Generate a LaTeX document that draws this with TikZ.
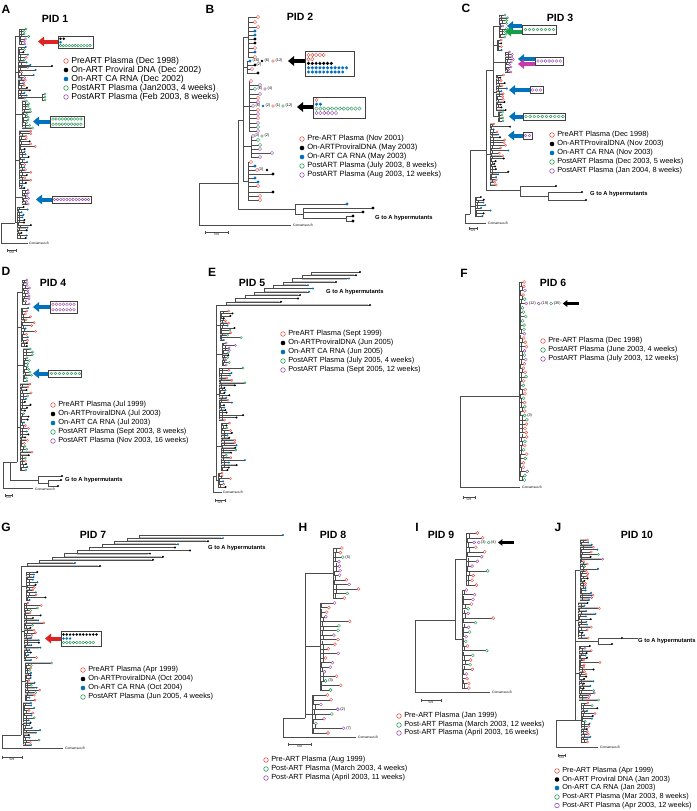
\documentclass[tikz,border=0pt]{standalone}
\usepackage{fontspec}
\setmainfont{Liberation Sans}
\usetikzlibrary{arrows.meta, positioning}

\definecolor{prered}{RGB}{232,72,60}
\definecolor{rnablue}{RGB}{0,112,192}
\definecolor{postgreen}{RGB}{30,150,80}
\definecolor{postpurple}{RGB}{150,70,170}
\definecolor{arrred}{RGB}{222,35,35}
\definecolor{arrblue}{RGB}{0,114,188}
\definecolor{arrgreen}{RGB}{20,160,70}
\definecolor{arrmag}{RGB}{200,60,170}

\pgfmathdeclarerandomlist{mixAll}{{mkpre}{mkdna}{mkrna}{mkgrn}{mkpur}{mkpre}{mkrna}}
\pgfmathdeclarerandomlist{topGrn}{{mkgrn}{mkgrn}{mkgrn}{mkpur}{mkrna}}
\pgfmathdeclarerandomlist{onlyGrn}{{mkgrn}}
\pgfmathdeclarerandomlist{onlyPur}{{mkpur}}
\pgfmathdeclarerandomlist{preDna}{{mkpre}{mkpre}{mkdna}{mkrna}}
\pgfmathdeclarerandomlist{rnaDna}{{mkrna}{mkdna}{mkrna}}
\pgfmathdeclarerandomlist{mixC}{{mkpre}{mkpre}{mkdna}{mkrna}{mkdna}}
\pgfmathdeclarerandomlist{mixD}{{mkrna}{mkdna}{mkgrn}{mkpre}}
\pgfmathdeclarerandomlist{mixE}{{mkdna}{mkdna}{mkrna}{mkpre}{mkrna}{mkgrn}}
\pgfmathdeclarerandomlist{purMix}{{mkpur}{mkpur}{mkgrn}{mkdna}}
\pgfmathdeclarerandomlist{plasmaF}{{mkpre}{mkpre}{mkpre}{mkgrn}{mkgrn}{mkpur}}
\pgfmathdeclarerandomlist{mixG}{{mkpre}{mkdna}{mkrna}{mkrna}{mkgrn}{mkpre}}
\pgfmathdeclarerandomlist{plasmaH}{{mkpre}{mkpre}{mkpur}{mkpur}{mkgrn}}
\pgfmathdeclarerandomlist{plasmaI}{{mkpre}{mkpre}{mkgrn}{mkpur}}
\pgfmathdeclarerandomlist{mixJ}{{mkpre}{mkpre}{mkdna}{mkrna}{mkgrn}{mkpur}}
\pgfmathdeclarerandomlist{rnaMix}{{mkrna}{mkrna}{mkdna}{mkpre}}

\def\mksz{2.2pt}

% name, seed, stem x, first y, last y, leaves, longest branch, marker list, share of shaded branches
\newcommand{\leafrun}[9]{%
  \pgfmathsetseed{#2}%
  \pgfmathsetmacro\lgap{(#5-#4)/(#6-1)}%
  \draw[branch] (#3,#4) -- (#3,#5);
  \foreach \i in {1,...,#6}{%
    \pgfmathsetmacro\yy{#4+(\i-1)*\lgap}%
    \pgfmathsetmacro\xk{#3+0.6+rnd*3}%
    \pgfmathsetmacro\xl{\xk+2.5+rnd*rnd*#7}%
    \pgfmathtruncatemacro\shd{rnd<#9 ? 1 : 0}%
    \pgfmathrandomitem\mk{#8}%
    \ifnum\shd=1 \fill[band] (#3,\yy-0.9) rectangle (\xl-1.2,\yy+0.9);\fi
    \draw[branch] (#3,\yy) -- (\xl,\yy);
    \ifnum\i>1 \draw[branch] (\xk,\yy) -- (\xk,\yy-0.8*\lgap);\fi
    \node[\mk] (#1-\i) at (\xl,\yy) {};
  }%
}
\newcommand{\circrow}[6]{%
  \foreach \k in {1,...,#5}{\node[#2] (#1-\k) at ({#3+(\k-1)*#6},#4) {};}%
}
\newcommand{\legrow}[5]{%
  \node[#2, minimum size=4.6pt, line width=0.55pt] (#1) at (#3,#4) {};
  \node[legtext, right=2.5pt of #1] (#1-t) {#5};%
}
\newcommand{\scalebar}[4]{%
  \draw[branch] (#2,#4-1.5) -- (#2,#4+1.5) (#2,#4) -- (#3,#4) (#3,#4-1.5) -- (#3,#4+1.5);
  \node[tinytext, anchor=north] (#1) at ({(#2+#3)/2},#4+1.5) {5nt};%
}

\begin{document}
\begin{tikzpicture}[x=1pt, y=-1pt,
  branch/.style={draw=black!70, line width=0.4pt},
  band/.style={fill=black!25},
  mk/.style={circle, inner sep=0pt, minimum size=\mksz, line width=0.4pt},
  mkpre/.style={mk, draw=prered, fill=white},
  mkgrn/.style={mk, draw=postgreen, fill=white},
  mkpur/.style={mk, draw=postpurple, fill=white},
  mkdna/.style={mk, fill=black},
  mkrna/.style={mk, fill=rnablue},
  circbox/.style={draw=black!75, fill=white, line width=0.5pt, inner sep=0pt},
  bigarrow/.style={line width=4pt, -{Triangle[length=6pt, width=9.5pt]}},
  smallarrow/.style={line width=2.6pt, -{Triangle[length=4.5pt, width=6.5pt]}},
  panel/.style={font=\fontsize{12}{12}\selectfont\bfseries, inner sep=0pt},
  pid/.style={font=\fontsize{10.5}{11}\selectfont\bfseries, inner sep=0pt},
  legtext/.style={font=\fontsize{7.4}{8}\selectfont, inner sep=0pt},
  hyper/.style={font=\fontsize{5.8}{6}\selectfont\bfseries, inner sep=0pt, anchor=west},
  tinytext/.style={font=\fontsize{3.3}{4}\selectfont, inner sep=0pt, anchor=west},
  tally/.style={font=\fontsize{3.8}{4}\selectfont, inner sep=0pt}
]
\useasboundingbox (0,0) rectangle (696,811);

% ---------- A : PID 1
\node[panel] (labA) at (6,9) {A};
\node[pid] (pidA) at (55,19) {PID 1};
\def\mksz{2.2pt}
\leafrun{a1}{11}{19}{29}{44}{7}{6}{topGrn}{0.3}
\leafrun{a2}{12}{18}{47}{98}{21}{14}{mixAll}{0.35}
\leafrun{a3}{13}{22}{101}{128}{11}{5}{onlyGrn}{0.4}
\leafrun{a4}{14}{19}{131}{188}{23}{14}{preDna}{0.35}
\leafrun{a5}{15}{22}{190}{204}{6}{4}{onlyPur}{0.3}
\leafrun{a6}{16}{17}{207}{238}{13}{16}{rnaDna}{0.3}
\draw[branch] (15,36) -- (15,223) (15,36) -- (19,36) (15,72) -- (18,72) (15,114) -- (22,114)
  (15,160) -- (19,160) (15,197) -- (22,197) (15,222) -- (17,222);
\draw[branch] (18,66) -- (52,66) (18,97) -- (42,97) (42,94) -- (42,100);
\node[mkdna] (aLong) at (52,66) {};
\foreach \yy in {94,97,100}{\draw[branch] (42,\yy) -- (45,\yy); \node[mkgrn] (aG\yy) at (45,\yy) {};}
\draw[branch] (1,223) -- (15,223) (1,223) -- (1,243) (1,243) -- (28,243);
\node[tinytext] (consA) at (29,243) {Consensus B};
\scalebar{scA}{7}{16}{250}
\def\mksz{2.7pt}
\node[circbox, minimum width=35pt, minimum height=12pt] (boxA1) at (75.5,42) {};
\circrow{a1k}{mkdna}{60.5}{38.8}{2}{3.2}
\circrow{a1b}{mkrna}{60.5}{42.2}{1}{3.2}
\circrow{a1g}{mkgrn}{60.5}{45.6}{11}{2.95}
\coordinate (tipA1) at (38,41.5);
\draw[bigarrow, arrred] (boxA1.west |- tipA1) -- (tipA1);
\node[circbox, minimum width=34pt, minimum height=11pt] (boxA2) at (67,121.5) {};
\circrow{a2g}{mkgrn}{53}{119}{10}{3.1}
\circrow{a2h}{mkgrn}{53}{124.2}{10}{3.1}
\coordinate (tipA2) at (33,121.5);
\draw[bigarrow, arrblue] (boxA2.west |- tipA2) -- (tipA2);
\node[circbox, minimum width=39pt, minimum height=7.5pt] (boxA3) at (71.5,199.5) {};
\circrow{a3p}{mkpur}{54.5}{199.5}{12}{3.1}
\coordinate (tipA3) at (36,199.5);
\draw[bigarrow, arrblue] (boxA3.west |- tipA3) -- (tipA3);
\begin{scope}[legtext/.style={font=\fontsize{8.7}{9}\selectfont, inner sep=0pt}]
\legrow{lgA1}{mkpre}{66}{61}{PreART Plasma (Dec 1998)}
\legrow{lgA2}{mkdna}{66}{70}{On-ART Proviral DNA (Dec 2002)}
\legrow{lgA3}{mkrna}{66}{79}{On-ART CA RNA (Dec 2002)}
\legrow{lgA4}{mkgrn}{66}{88}{PostART Plasma (Jan2003, 4 weeks)}
\legrow{lgA5}{mkpur}{66}{97}{PostART Plasma (Feb 2003, 8 weeks)}
\end{scope}

% ---------- B : PID 2
\node[panel] (labB) at (210,9) {B};
\node[pid] (pidB) at (300,17) {PID 2};
\def\mksz{3.4pt}
\draw[branch] (243,37) -- (243,181) (243,37) -- (248,37) (243,67) -- (247,67) (243,106) -- (249,106)
  (243,146) -- (251,146) (243,181) -- (248,181)
  (248,17) -- (248,57) (247,61) -- (247,73) (249,81) -- (249,131) (251,136) -- (251,157) (248,162) -- (248,200)
  (238,120) -- (243,120) (238,120) -- (238,209) (199,183) -- (238,183) (199,183) -- (199,225) (199,225) -- (291,225);
\foreach \yy/\lx/\rx/\mk in {17/248/258/mkpre, 22/248/255/mkpre, 27/248/258/mkpre, 31/248/255/mkrna,
  35/248/255/mkrna, 39/248/255/mkdna, 43/248/255/mkdna, 48/248/255/mkpre, 52/248/255/mkrna, 57/248/255/mkpre,
  61/247/250/mkrna, 65/247/255/mkdna, 69/247/252/mkpre, 73/247/258/mkdna,
  81/249/251/mkpre, 85/249/260/mkpur, 89/249/255/mkgrn, 94/249/260/mkpur, 98/249/258/mkpre, 102/249/258/mkpur,
  106/249/253/mkpur, 110/249/258/mkpre, 114/249/258/mkpur, 118/249/258/mkpre, 123/249/258/mkpur,
  127/249/258/mkgrn, 131/249/258/mkpur,
  136/251/253/mkpur, 140/251/258/mkgrn, 145/251/260/mkgrn, 149/251/260/mkpur, 153/251/272/mkpur, 157/251/260/mkpur,
  162/248/251/mkpre, 166/248/255/mkrna, 170/248/257/mkpre, 174/248/273/mkdna, 178/248/255/mkrna,
  182/248/258/mkrna, 186/248/258/mkpre, 192/248/273/mkdna, 196/248/260/mkpre, 200/248/260/mkpre}{
  \draw[branch] (\lx,\yy) -- (\rx,\yy);
  \node[\mk] (b-\yy) at (\rx,\yy) {};
}
\def\mksz{2.6pt}
\node[tally] (b16) at (256,61) {(16)};
\node[mkdna] (b16d) at (262,61) {};
\node[tally] (b6) at (267,61) {(6)};
\node[mkpre] (b12c) at (273,61) {};
\node[tally] (b12) at (279,61) {(12)};
\node[tally] (b2) at (259,65) {(2)};
\node[tally] (b6g) at (260,89) {(6)};
\node[mkpur] (b4c) at (265,89) {};
\node[tally] (b4) at (270,89) {(4)};
\node[tally] (b6p) at (258,106) {(6)};
\node[mkrna] (b2c) at (263,106) {};
\node[tally] (b2r) at (268,106) {(2)};
\node[mkpre] (b1c) at (273,106) {};
\node[tally] (b1) at (278,106) {(1)};
\node[mkgrn] (b12g) at (283,106) {};
\node[tally] (b12r) at (289,106) {(12)};
\node[tally] (b3p) at (257,136) {(3)};
\node[mkgrn] (b2g) at (262,136) {};
\node[tally] (b2p) at (267,136) {(2)};
\node[tally] (b3k) at (261,170) {(3)};
\node[mkdna] (b3d) at (267,170) {};
\draw[branch] (238,209) -- (295,209) (295,204) -- (295,214) (295,204) -- (347,204) (295,214) -- (303,214)
  (303,208) -- (303,218) (303,208) -- (373,208) (303,212) -- (363,212) (303,218) -- (346,218)
  (346,216) -- (346,221) (346,216) -- (353,216) (346,221) -- (353,221);
\def\mksz{3.2pt}
\node[mkrna] (bH1) at (347,204) {};
\node[mkdna] (bH2) at (373,208) {};
\node[mkdna] (bH3) at (363,212) {};
\node[mkdna] (bH4) at (353,216) {};
\node[mkdna] (bH5) at (353,221) {};
\node[hyper] (hypB) at (375,218) {G to A hypermutants};
\node[tinytext] (consB) at (293,225) {Consensus B};
\scalebar{scB}{205}{228}{232}
\def\mksz{3.4pt}
\node[circbox, minimum width=49pt, minimum height=25pt] (boxB1) at (329.5,63.5) {};
\circrow{b1r}{mkpre}{308.5}{55}{5}{3.8}
\circrow{b1s}{mkpre}{308.5}{59.2}{2}{3.8}
\circrow{b1k}{mkdna}{308.5}{63.4}{7}{3.8}
\circrow{b1b}{mkrna}{308.5}{67.8}{11}{3.8}
\circrow{b1c}{mkrna}{308.5}{72}{10}{3.8}
\coordinate (tipB1) at (288,61);
\draw[bigarrow, black] (boxB1.west |- tipB1) -- (tipB1);
\node[circbox, minimum width=52pt, minimum height=21pt] (boxB2) at (339,107.5) {};
\circrow{b2r}{mkpre}{316.5}{100}{1}{3.9}
\circrow{b2b}{mkrna}{316.5}{104.2}{2}{3.9}
\circrow{b2g}{mkgrn}{316.5}{108.6}{12}{3.9}
\circrow{b2p}{mkpur}{316.5}{113}{6}{3.9}
\coordinate (tipB2) at (297,107);
\draw[bigarrow, black] (boxB2.west |- tipB2) -- (tipB2);
\begin{scope}[legtext/.style={font=\fontsize{7.6}{8}\selectfont, inner sep=0pt}]
\legrow{lgB1}{mkpre}{302}{139}{Pre-ART Plasma (Nov 2001)}
\legrow{lgB2}{mkdna}{302}{148}{On-ARTProviralDNA (May 2003)}
\legrow{lgB3}{mkrna}{302}{157}{On-ART CA RNA (May 2003)}
\legrow{lgB4}{mkgrn}{302}{166}{PostART Plasma (July 2003, 8 weeks)}
\legrow{lgB5}{mkpur}{302}{175}{PostART Plasma (Aug 2003, 12 weeks)}
\end{scope}

% ---------- C : PID 3
\node[panel] (labC) at (466,8) {C};
\node[pid] (pidC) at (560,18) {PID 3};
\def\mksz{2.2pt}
\leafrun{c1}{21}{499}{15}{37}{9}{7}{topGrn}{0.3}
\leafrun{c2}{22}{497}{40}{50}{4}{12}{preDna}{0.3}
\leafrun{c3}{23}{505}{52}{72}{9}{4}{onlyPur}{0.2}
\leafrun{c4}{24}{496}{75}{110}{14}{14}{preDna}{0.35}
\leafrun{c5}{25}{498}{112}{121}{4}{4}{onlyGrn}{0.2}
\leafrun{c6}{26}{490}{124}{185}{24}{18}{mixC}{0.35}
\leafrun{c7}{27}{475}{197}{216}{8}{14}{rnaDna}{0.3}
\draw[branch] (493,26) -- (493,116) (493,26) -- (499,26) (493,45) -- (497,45) (493,62) -- (505,62)
  (493,92) -- (496,92) (493,116) -- (498,116)
  (486,70) -- (486,190) (486,70) -- (493,70) (486,154) -- (490,154)
  (470,150) -- (470,214) (470,150) -- (486,150) (470,206) -- (475,206)
  (465,214) -- (470,214) (465,214) -- (465,223) (465,223) -- (486,223);
\node[tinytext] (consC) at (488,223) {Consensus B};
\draw[branch] (486,190) -- (520,190) (520,186) -- (520,196) (520,186) -- (556,186) (520,196) -- (548,196)
  (548,192) -- (548,200) (548,192) -- (582,192) (548,200) -- (586,200);
\node[mkdna] (cH1) at (556,186) {};
\node[mkdna] (cH2) at (582,192) {};
\node[mkdna] (cH3) at (586,200) {};
\node[hyper] (hypC) at (590,194) {G to A hypermutants};
\scalebar{scC}{469}{477}{228}
\def\mksz{2.8pt}
\node[circbox, minimum width=34pt, minimum height=9pt] (boxC1) at (539,29.5) {};
\circrow{c1g}{mkgrn}{525.5}{29.5}{8}{4}
\coordinate (tipC1) at (507,26);
\coordinate (tipC1g) at (505,31.5);
\draw[bigarrow, arrblue] (boxC1.west |- tipC1) -- (tipC1);
\draw[bigarrow, arrgreen] (boxC1.west |- tipC1g) -- (tipC1g);
\node[circbox, minimum width=28pt, minimum height=8pt] (boxC2) at (549,61) {};
\circrow{c2p}{mkpur}{538}{61}{7}{3.7}
\coordinate (tipC2) at (518,59);
\coordinate (tipC2m) at (518,64);
\draw[bigarrow, arrblue] (boxC2.west |- tipC2) -- (tipC2);
\draw[bigarrow, arrmag] (boxC2.west |- tipC2m) -- (tipC2m);
\node[circbox, minimum width=13pt, minimum height=7pt] (boxC3) at (536.5,90) {};
\circrow{c3p}{mkpur}{532.5}{90}{3}{4}
\coordinate (tipC3) at (509,90);
\draw[bigarrow, arrblue] (boxC3.west |- tipC3) -- (tipC3);
\node[circbox, minimum width=42pt, minimum height=7.5pt] (boxC4) at (544,116.5) {};
\circrow{c4g}{mkgrn}{526}{116.5}{10}{4.1}
\coordinate (tipC4) at (509,116.5);
\draw[bigarrow, arrblue] (boxC4.west |- tipC4) -- (tipC4);
\node[circbox, minimum width=9pt, minimum height=7pt] (boxC5) at (527.5,135.5) {};
\circrow{c5p}{mkpur}{525.5}{135.5}{2}{4}
\coordinate (tipC5) at (508,135.5);
\draw[bigarrow, arrblue] (boxC5.west |- tipC5) -- (tipC5);
\legrow{lgC1}{mkpre}{552}{135}{PreART Plasma (Dec 1998)}
\legrow{lgC2}{mkdna}{552}{144}{On-ARTProviralDNA (Nov 2003)}
\legrow{lgC3}{mkrna}{552}{153}{On-ART CA RNA (Nov 2003)}
\legrow{lgC4}{mkgrn}{552}{162}{PostART Plasma (Dec 2003, 5 weeks)}
\legrow{lgC5}{mkpur}{552}{171}{PostART Plasma (Jan 2004, 8 weeks)}

% ---------- D : PID 4
\node[panel] (labD) at (6,271) {D};
\node[pid] (pidD) at (53,283) {PID 4};
\def\mksz{2.2pt}
\leafrun{d1}{31}{22}{280}{304}{10}{5}{onlyPur}{0.2}
\leafrun{d2}{32}{21}{308}{346}{14}{12}{preDna}{0.3}
\leafrun{d3}{33}{23}{349}{381}{12}{5}{onlyGrn}{0.3}
\leafrun{d4}{34}{20}{384}{470}{30}{10}{mixD}{0.3}
\draw[branch] (17,292) -- (17,462) (17,292) -- (22,292) (17,327) -- (21,327) (17,365) -- (23,365) (17,427) -- (20,427)
  (3,462) -- (17,462) (3,462) -- (3,488) (3,488) -- (33,488)
  (10,462) -- (10,480) -- (38,480) (38,476) -- (38,483) (38,476) -- (62,476) (38,483) -- (48,483)
  (48,480) -- (48,486) (48,480) -- (61,480) (48,486) -- (58,486);
\node[mkdna] (dH1) at (62,476) {};
\node[mkdna] (dH2) at (61,480) {};
\node[mkdna] (dH3) at (58,486) {};
\node[hyper] (hypD) at (65,480) {G to A hypermutants};
\node[tinytext] (consD) at (35,489) {Consensus B};
\scalebar{scD}{5}{12}{495}
\def\mksz{2.8pt}
\node[circbox, minimum width=27pt, minimum height=12pt] (boxD1) at (63.5,307) {};
\circrow{d1p}{mkpur}{53}{304.2}{7}{3.5}
\circrow{d1q}{mkpur}{53}{309.8}{7}{3.5}
\coordinate (tipD1) at (33,307);
\draw[bigarrow, arrblue] (boxD1.west |- tipD1) -- (tipD1);
\node[circbox, minimum width=33pt, minimum height=7.5pt] (boxD2) at (64.5,373.5) {};
\circrow{d2g}{mkgrn}{51.5}{373.5}{8}{4}
\coordinate (tipD2) at (33,373.5);
\draw[bigarrow, arrblue] (boxD2.west |- tipD2) -- (tipD2);
\legrow{lgD1}{mkpre}{53}{405}{PreART Plasma (Jul 1999)}
\legrow{lgD2}{mkdna}{53}{414}{On-ARTProviralDNA (Jul 2003)}
\legrow{lgD3}{mkrna}{53}{423}{On-ART CA RNA (Jul 2003)}
\legrow{lgD4}{mkgrn}{53}{432}{PostART Plasma (Sept 2003, 8 weeks)}
\legrow{lgD5}{mkpur}{53}{441}{PostART Plasma (Nov 2003, 16 weeks)}

% ---------- E : PID 5
\node[panel] (labE) at (212,272) {E};
\node[pid] (pidE) at (252,283) {PID 5};
\def\mksz{2.2pt}
\leafrun{e1}{41}{220}{311}{340}{13}{22}{mixE}{0.4}
\leafrun{e2}{42}{222}{343}{365}{10}{18}{purMix}{0.4}
\leafrun{e3}{43}{219}{368}{420}{22}{24}{mixE}{0.4}
\leafrun{e4}{44}{221}{423}{470}{20}{22}{mixE}{0.4}
\leafrun{e5}{45}{218}{473}{487}{6}{14}{preDna}{0.3}
\draw[branch] (216,305) -- (216,480) (216,305) -- (226,305) (216,325) -- (220,325) (216,354) -- (222,354)
  (216,394) -- (219,394) (216,446) -- (221,446) (216,480) -- (218,480)
  (213,476) -- (216,476) (213,476) -- (213,492) (213,492) -- (222,492);
\foreach \k/\lend/\mk in {0/370/mkdna,1/281/mkdna,2/298/mkdna,3/300/mkdna,4/309/mkrna,5/313/mkrna,
  6/308/mkrna,7/336/mkdna,8/349/mkrna,9/356/mkdna}{
  \pgfmathsetmacro\fx{226+9.5*\k}
  \pgfmathsetmacro\fy{305-3.3*\k}
  \fill[band] (\fx,\fy-0.9) rectangle (\lend-2,\fy+0.9);
  \draw[branch] (\fx,\fy) -- (\lend,\fy) (\fx,\fy) -- (\fx,\fy-3.3) -- (\fx+9.5,\fy-3.3);
  \node[\mk] (eF-\k) at (\lend,\fy) {};
}
\draw[branch] (321,272) -- (360,272);
\node[mkdna] (eF-10) at (360,272) {};
\node[hyper] (hypE) at (326,292) {G to A hypermutants};
\node[tinytext] (consE) at (223,492) {Consensus B};
\scalebar{scE}{215}{225}{500}
\legrow{lgE1}{mkpre}{283}{334}{PreART Plasma (Sept 1999)}
\legrow{lgE2}{mkdna}{283}{343}{On-ARTProviralDNA (Jun 2005)}
\legrow{lgE3}{mkrna}{283}{352}{On-ART CA RNA (Jun 2005)}
\legrow{lgE4}{mkgrn}{283}{361}{PostART Plasma (July 2005, 4 weeks)}
\legrow{lgE5}{mkpur}{283}{370}{PostART Plasma (Sept 2005, 12 weeks)}

% ---------- F : PID 6
\node[panel] (labF) at (464,273) {F};
\node[pid] (pidF) at (553,283) {PID 6};
\def\mksz{3pt}
\leafrun{f1}{51}{519}{282}{480}{47}{4}{plasmaF}{0}
\draw[branch] (460,396) -- (519,396) (460,396) -- (460,487) (460,487) -- (520,487);
\node[tinytext] (consF) at (522,487) {Consensus B};
\scalebar{scF}{463}{475}{497}
\node[tally, right=0.8pt of f1-6] (f12) {(12)};
\node[mkpur, right=1pt of f12] (f12c) {};
\node[tally, right=0.8pt of f12c] (f19) {(19)};
\node[mkgrn, right=1pt of f19] (f19c) {};
\node[tally, right=0.8pt of f19c] (f35) {(35)};
\coordinate[right=18pt of f35] (fTail);
\draw[smallarrow, shorten >=2pt] (fTail) -- (f35);
\node[tally, right=0.8pt of f1-32] (f3) {(3)};
\legrow{lgF1}{mkpre}{543}{341}{Pre-ART Plasma (Dec 1998)}
\legrow{lgF2}{mkgrn}{543}{350}{PostART Plasma (June 2003, 4 weeks)}
\legrow{lgF3}{mkpur}{543}{359}{PostART Plasma (July 2003, 12 weeks)}

% ---------- G : PID 7
\node[panel] (labG) at (6,527) {G};
\node[pid] (pidG) at (93,535) {PID 7};
\def\mksz{2.2pt}
\leafrun{g1}{61}{26}{572}{600}{12}{30}{mixG}{0.45}
\leafrun{g2}{62}{24}{603}{660}{24}{24}{mixG}{0.45}
\leafrun{g3}{63}{25}{663}{700}{16}{26}{mixG}{0.45}
\leafrun{g4}{64}{23}{703}{745}{18}{22}{mixG}{0.45}
\draw[branch] (21,566) -- (21,735) (21,566) -- (27,566) (21,586) -- (26,586) (21,631) -- (24,631)
  (21,681) -- (25,681) (21,724) -- (23,724)
  (2,735) -- (21,735) (2,735) -- (2,748) (2,748) -- (63,748);
\foreach \k/\lend/\mk in {0/100/mkdna,1/75/mkrna,2/153/mkdna,3/163/mkdna,4/150/mkdna,5/190/mkdna,
  6/175/mkdna,7/178/mkrna,8/208/mkdna,9/223/mkrna}{
  \pgfmathsetmacro\fx{27+12.5*\k}
  \pgfmathsetmacro\fy{566-3.1*\k}
  \fill[band] (\fx,\fy-0.9) rectangle (\lend-2,\fy+0.9);
  \draw[branch] (\fx,\fy) -- (\lend,\fy) (\fx,\fy) -- (\fx,\fy-3.1) -- (\fx+12.5,\fy-3.1);
  \node[\mk] (gF-\k) at (\lend,\fy) {};
}
\draw[branch] (152,535) -- (283,535);
\node[mkrna] (gF-10) at (283,535) {};
\node[hyper] (hypG) at (208,548) {G to A hypermutants};
\node[tinytext] (consG) at (65,748) {Consensus B};
\scalebar{scG}{2}{22}{757}
\def\mksz{2.7pt}
\node[circbox, minimum width=40pt, minimum height=15pt] (boxG1) at (81,638.5) {};
\circrow{g1k}{mkdna}{63.5}{634.5}{11}{3.3}
\circrow{g1b}{mkrna}{63.5}{638.5}{3}{3.3}
\circrow{g1g}{mkgrn}{63.5}{642.5}{10}{3.3}
\coordinate (tipG1) at (45,638.5);
\draw[bigarrow, arrred] (boxG1.west |- tipG1) -- (tipG1);
\legrow{lgG1}{mkpre}{83}{670}{PreART Plasma (Apr 1999)}
\legrow{lgG2}{mkdna}{83}{679}{On-ARTProviralDNA (Oct 2004)}
\legrow{lgG3}{mkrna}{83}{688}{On-ART CA RNA (Oct 2004)}
\legrow{lgG4}{mkgrn}{83}{697}{PostART Plasma (Jun 2005, 4 weeks)}

% ---------- H : PID 8
\node[panel] (labH) at (303,527) {H};
\node[pid] (pidH) at (333,535) {PID 8};
\def\mksz{3pt}
\leafrun{h1}{71}{333}{548}{598}{12}{30}{plasmaH}{0}
\leafrun{h2}{72}{320}{603}{690}{20}{34}{plasmaH}{0}
\leafrun{h3}{73}{312}{695}{733}{9}{34}{plasmaH}{0}
\draw[branch] (305,573) -- (305,718) (305,573) -- (333,573) (305,646) -- (320,646) (305,714) -- (312,714)
  (283,718) -- (305,718) (283,718) -- (283,737) (283,737) -- (356,737);
\node[tally, right=0.8pt of h1-3] (h5) {(5)};
\node[tally, right=0.8pt of h2-18] (h3a) {(3)};
\node[tally, right=0.8pt of h3-4] (h2a) {(2)};
\node[tally, right=0.8pt of h3-8] (h7) {(7)};
\node[tinytext] (consH) at (358,737) {Consensus B};
\scalebar{scH}{288}{311}{744}
\legrow{lgH1}{mkpre}{266}{760}{Pre-ART Plasma (Aug 1999)}
\legrow{lgH2}{mkgrn}{266}{769}{Post-ART Plasma (March 2003, 4 weeks)}
\legrow{lgH3}{mkpur}{266}{778}{Post-ART Plasma (April 2003, 11 weeks)}

% ---------- I : PID 9
\node[panel] (labI) at (417,527) {I};
\node[pid] (pidI) at (441,535) {PID 9};
\def\mksz{3pt}
\leafrun{i1}{81}{466}{533}{585}{12}{26}{plasmaI}{0}
\leafrun{i2}{82}{462}{590}{688}{22}{30}{plasmaI}{0}
\draw[branch] (455,559) -- (455,639) (455,559) -- (466,559) (455,639) -- (462,639)
  (415,620) -- (455,620) (415,620) -- (415,692) (415,692) -- (490,692);
\node[mkpur, right=1pt of i1-3] (i3c) {};
\node[tally, right=0.6pt of i3c] (i3) {(3)};
\node[mkgrn, right=1pt of i3] (i4c) {};
\node[tally, right=0.6pt of i4c] (i4) {(4)};
\coordinate[right=18pt of i4] (iTail);
\draw[smallarrow, shorten >=2pt] (iTail) -- (i4);
\node[tinytext] (consI) at (492,692) {Consensus B};
\scalebar{scI}{421}{441}{700}
\legrow{lgI1}{mkpre}{399}{716}{Pre-ART Plasma (Jan 1999)}
\legrow{lgI2}{mkgrn}{399}{725}{Post-ART Plasma (March 2003, 12 weeks)}
\legrow{lgI3}{mkpur}{399}{733}{Post-ART Plasma (April 2003, 16 weeks)}

% ---------- J : PID 10
\node[panel] (labJ) at (558,527) {J};
\node[pid] (pidJ) at (637,535) {PID 10};
\def\mksz{2.2pt}
\leafrun{j1}{91}{580}{540}{600}{26}{20}{mixJ}{0.5}
\leafrun{j2}{92}{578}{603}{638}{14}{18}{rnaMix}{0.5}
\leafrun{j3}{93}{579}{646}{700}{24}{18}{mixJ}{0.5}
\leafrun{j4}{94}{581}{703}{742}{16}{14}{mixJ}{0.5}
\draw[branch] (575,570) -- (575,720) (575,570) -- (580,570) (575,620) -- (578,620) (575,673) -- (579,673)
  (575,720) -- (581,720)
  (556,720) -- (575,720) (556,720) -- (556,747) (556,747) -- (598,747)
  (575,641) -- (598,641) (598,638) -- (598,644) (598,638) -- (622,638) (598,644) -- (612,644);
\node[mkdna] (jH1) at (622,638) {};
\node[mkdna] (jH2) at (612,644) {};
\node[hyper] (hypJ) at (638,641) {G to A hypermutants};
\draw[branch] (jH1) -- (jH1 -| hypJ.west);
\node[tinytext] (consJ) at (600,747) {Consensus B};
\scalebar{scJ}{558}{565}{755}
\begin{scope}[legtext/.style={font=\fontsize{7.3}{8}\selectfont, inner sep=0pt}]
\legrow{lgJ1}{mkpre}{557}{771}{Pre-ART Plasma (Apr 1999)}
\legrow{lgJ2}{mkdna}{557}{779.5}{On-ART Proviral DNA (Jan 2003)}
\legrow{lgJ3}{mkrna}{557}{788}{On-ART CA RNA (Jan 2003)}
\legrow{lgJ4}{mkgrn}{557}{797}{Post-ART Plasma (Mar 2003, 8 weeks)}
\legrow{lgJ5}{mkpur}{557}{805.5}{Post-ART Plasma (Apr 2003, 12 weeks)}
\end{scope}
\end{tikzpicture}
\end{document}
